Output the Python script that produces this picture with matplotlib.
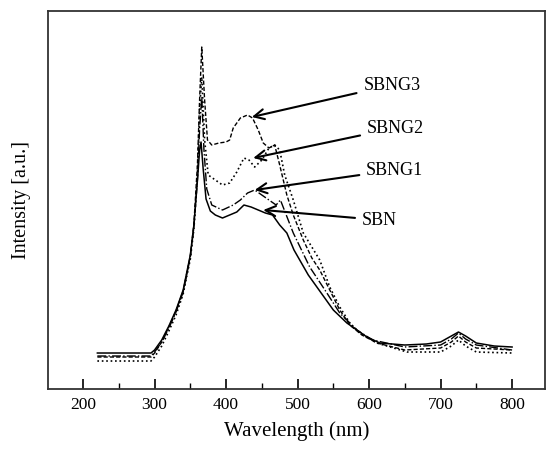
import matplotlib
matplotlib.use('Agg')
import matplotlib.pyplot as plt
from matplotlib.ticker import MultipleLocator, NullLocator

plt.rcParams['font.family'] = ['Liberation Serif', 'DejaVu Serif']

# wavelength (nm) and intensity (a.u.)
wl_sbn = [220, 295, 300, 310, 320, 330, 340, 350, 355, 360, 363, 365, 368, 372, 378, 385, 395,
          405, 415, 425, 435, 445, 455, 465, 475, 485, 495, 503, 515, 527, 540, 550, 569,
          597, 615, 650, 680, 700, 715, 725, 735, 750, 775, 800]
i_sbn = [36, 36, 39, 49, 63, 79, 99, 134, 164, 209, 239, 247, 220, 190, 178, 174, 171,
         174, 177, 184, 182, 179, 176, 174, 164, 156, 139, 129, 114, 102, 89, 79, 66,
         52, 46, 44, 45, 47, 53, 57, 53, 46, 43, 42]

wl_g1 = [220, 295, 300, 310, 320, 330, 340, 350, 355, 360, 363, 366, 369, 373, 380, 395,
         410, 420, 430, 440, 450, 460, 470, 476, 494, 517, 541, 559, 583, 605, 650, 700,
         715, 725, 735, 750, 800]
i_g1 = [33, 33, 37, 47, 61, 77, 97, 132, 162, 210, 260, 292, 240, 200, 184, 179,
        184, 189, 196, 199, 194, 189, 184, 189, 156, 122, 96, 76, 59, 49, 42, 44,
        50, 56, 50, 44, 39]

wl_g2 = [220, 295, 300, 310, 320, 330, 340, 350, 355, 360, 363, 366, 370, 375, 385, 395,
         405, 415, 425, 432, 440, 450, 460, 468, 475, 482, 494, 508, 531, 545, 559, 573,
         587, 611, 653, 700, 715, 725, 735, 750, 800]
i_g2 = [28, 28, 32, 43, 58, 74, 95, 130, 160, 215, 280, 312, 249, 214, 209, 204,
        206, 217, 231, 229, 222, 229, 241, 244, 239, 214, 189, 156, 129, 102, 82, 66,
        56, 46, 37, 37, 43, 49, 43, 37, 36]

wl_g3 = [220, 295, 300, 310, 320, 330, 340, 350, 355, 360, 363, 366, 370, 374, 380, 390,
         400, 405, 410, 420, 430, 437, 445, 452, 460, 468, 475, 485, 494, 508, 520, 531,
         545, 559, 573, 590, 611, 650, 700, 715, 725, 735, 750, 800]
i_g3 = [32, 32, 36, 47, 62, 78, 98, 133, 165, 225, 290, 342, 289, 249, 244, 246,
        247, 249, 261, 271, 274, 271, 259, 246, 241, 244, 224, 194, 174, 149, 131, 119,
        99, 79, 64, 54, 46, 39, 41, 47, 53, 47, 41, 39]

labels = ['SBNG3', 'SBNG2', 'SBNG1', 'SBN']
label_xy = [(592, 304), (597, 261), (596, 219), (590, 169)]
arrow_xy = [(436, 272), (438, 231), (440, 199), (452, 179)]

fig = plt.figure(figsize=(5.47, 4.49), dpi=100)
ax = fig.add_axes([0.0878, 0.1336, 0.9085, 0.8419])

ax.plot(wl_sbn, i_sbn, '-', c='k', lw=1.1)
ax.plot(wl_g1, i_g1, '-.', c='k', lw=1.0)
ax.plot(wl_g2, i_g2, ':', c='k', lw=1.2)
ax.plot(wl_g3, i_g3, '--', c='k', lw=1.0, dashes=(3, 1.5))

for lab, txy, axy in zip(labels, label_xy, arrow_xy):
	ax.annotate(lab, xy=axy, xytext=txy, fontsize=13, ha='left', va='center',
		arrowprops=dict(arrowstyle='->', color='k', lw=1.5, mutation_scale=18,
			shrinkA=3, shrinkB=0))

ax.set_xlim(151, 846)
ax.set_ylim(0, 378)
ax.xaxis.set_major_locator(MultipleLocator(100))
ax.xaxis.set_minor_locator(MultipleLocator(50))
ax.yaxis.set_major_locator(NullLocator())
ax.tick_params(axis='x', which='major', direction='in', length=7, width=1.2, labelsize=12.5, pad=6)
ax.tick_params(axis='x', which='minor', direction='in', length=4, width=1.0)
for s in ax.spines.values():
	s.set_linewidth(1.3)
	s.set_color('#333333')

ax.set_xlabel('Wavelength (nm)', fontsize=15, labelpad=6)
ax.set_ylabel('Intensity [a.u.]', fontsize=14.5, labelpad=12)

fig.savefig('out.png', dpi=100)
